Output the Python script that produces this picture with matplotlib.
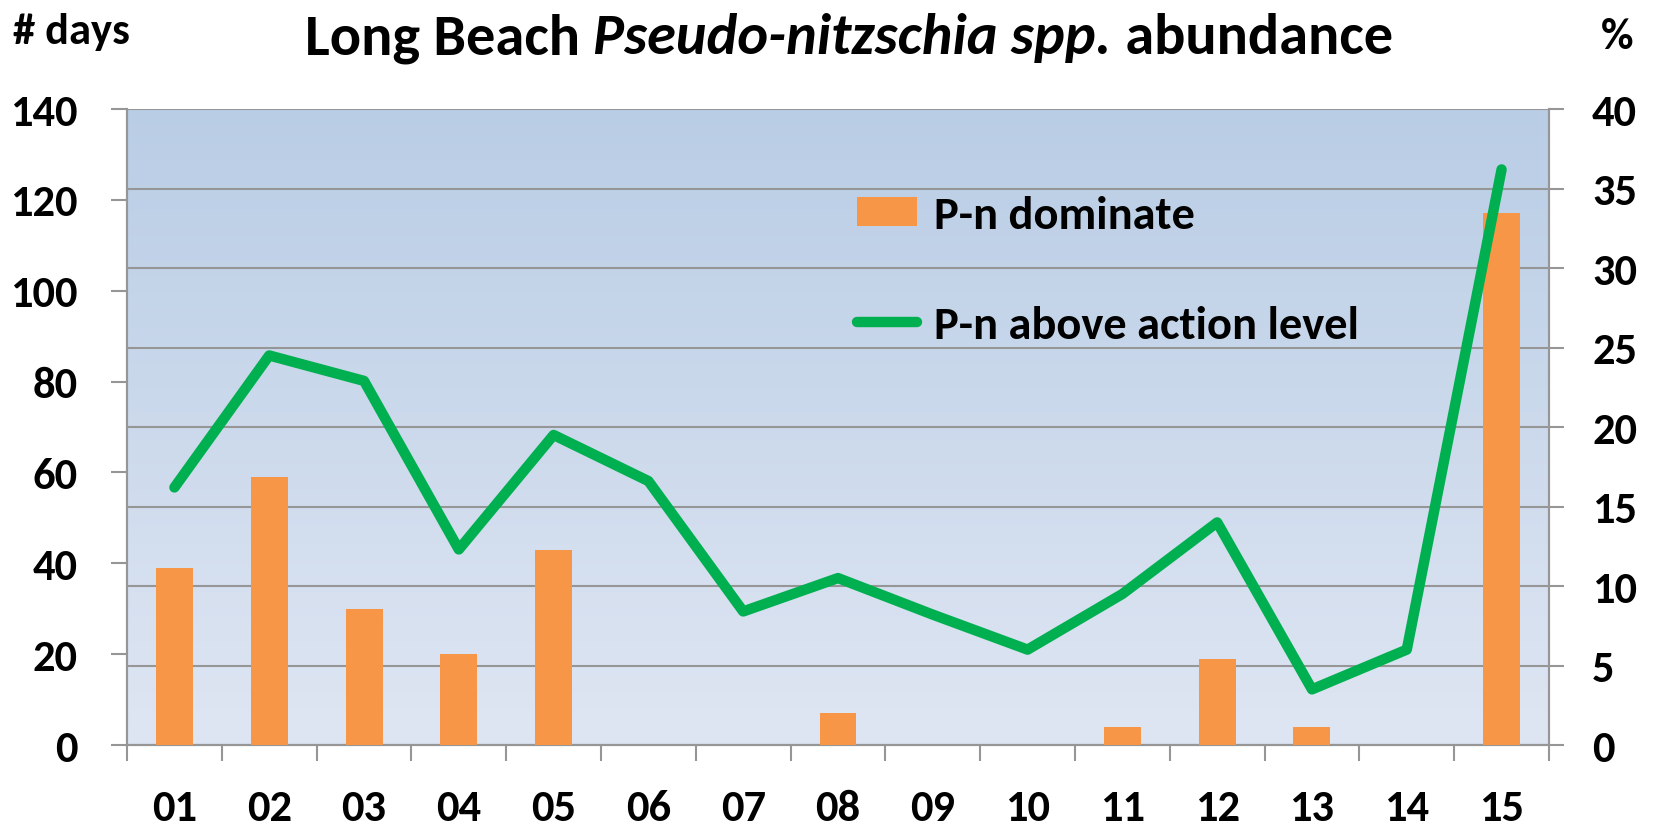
import numpy as np
import matplotlib
matplotlib.use("Agg")
import matplotlib.pyplot as plt
from matplotlib.colors import LinearSegmentedColormap

plt.rcParams['font.family'] = ['Carlito', 'Lato', 'DejaVu Sans']
plt.rcParams['font.weight'] = 'bold'

# data
years = ["01", "02", "03", "04", "05", "06", "07", "08",
         "09", "10", "11", "12", "13", "14", "15"]
dominate_days = [39, 59, 30, 20, 43, 0, 0, 7, 0, 0, 4, 19, 4, 0, 117]
above_action_pct = [16.2, 24.5, 22.9, 12.3, 19.5, 16.6, 8.4, 10.5,
                    8.2, 6.0, 9.5, 14.0, 3.5, 6.0, 36.2]
left_ticks = [0, 20, 40, 60, 80, 100, 120, 140]
right_ticks = [0, 5, 10, 15, 20, 25, 30, 35, 40]

orange = "#F79646"
green = "#00B050"
grey = "#969696"

fig = plt.figure(figsize=(16.54, 8.29), dpi=100)
ax = fig.add_axes([0.0768, 0.1001, 0.8597, 0.7672])
ax2 = ax.twinx()
# right axis (grid + background) goes behind the bars
ax.set_zorder(2)
ax2.set_zorder(1)
ax.patch.set_visible(False)

# gradient background
cmap = LinearSegmentedColormap.from_list("bg", ["#B9CDE5", "#DFE6F3"])
ax2.imshow(np.linspace(0, 1, 256).reshape(-1, 1), cmap=cmap, aspect="auto",
           extent=[0, 1, 0, 1], transform=ax2.transAxes, zorder=0)

x = np.arange(len(years))
bars = ax.bar(x, dominate_days, width=0.39, color=orange, zorder=3)
line, = ax.plot(x, above_action_pct, color=green, lw=7.5,
                solid_capstyle="round", transform=ax2.transData, zorder=4)

ax.set_xlim(-0.5, len(years) - 0.5)
ax2.set_xlim(-0.5, len(years) - 0.5)
ax.set_ylim(0, 140)
ax2.set_ylim(0, 40)

ax.set_yticks(left_ticks)
ax2.set_yticks(right_ticks)
ax.set_xticks(x)
ax.set_xticklabels(years)
ax.set_xticks(np.arange(-0.5, len(years), 1), minor=True)

ax2.yaxis.grid(True, color=grey, lw=1.5)

ax.tick_params(axis="y", direction="out", length=11.5, width=1.5,
               color=grey, pad=24, labelsize=32)
ax2.tick_params(axis="y", direction="out", length=11, width=1.5,
                color=grey, pad=20, labelsize=32)
ax.tick_params(axis="x", which="major", length=0, pad=32, labelsize=32)
ax.tick_params(axis="x", which="minor", direction="out", length=11.5,
               width=1.5, color=grey)
ax2.tick_params(axis="x", which="both", length=0)

for a in (ax, ax2):
    a.spines["top"].set_visible(False)
    for s in ("left", "right", "bottom"):
        a.spines[s].set_color(grey)
        a.spines[s].set_linewidth(1.5)

# legend
ax.legend([bars, line], ["P-n dominate", "P-n above action level"],
          loc="upper left", bbox_to_anchor=(857 / 1654, 1 - 196 / 829),
          bbox_transform=fig.transFigure, frameon=False, fontsize=33.5,
          borderpad=0, borderaxespad=0, handlelength=1.3, handleheight=0.6,
          handletextpad=0.35, labelspacing=1.5)

# axis captions
fig.text(13 / 1654, 1 - 32 / 829, "# days", fontsize=32, va="center",
         ha="left")
fig.text(1617 / 1654, 1 - 37 / 829, "%", fontsize=32, va="center",
         ha="center")

# title with italic part, centred as a whole
title_y = 1 - 54 / 829
t1 = fig.text(0, title_y, "Long Beach ", fontsize=42, va="baseline")
t2 = fig.text(0, title_y, "Pseudo-nitzschia spp.", fontsize=42,
              style="italic", va="baseline")
t3 = fig.text(0, title_y, " abundance", fontsize=42, va="baseline")
fig.canvas.draw()
r = fig.canvas.get_renderer()
widths = [t.get_window_extent(r).width for t in (t1, t2, t3)]
start = 849 - sum(widths) / 2
for t, w in zip((t1, t2, t3), widths):
    t.set_x(start / 1654)
    start += w

fig.savefig("out.png", dpi=100)
